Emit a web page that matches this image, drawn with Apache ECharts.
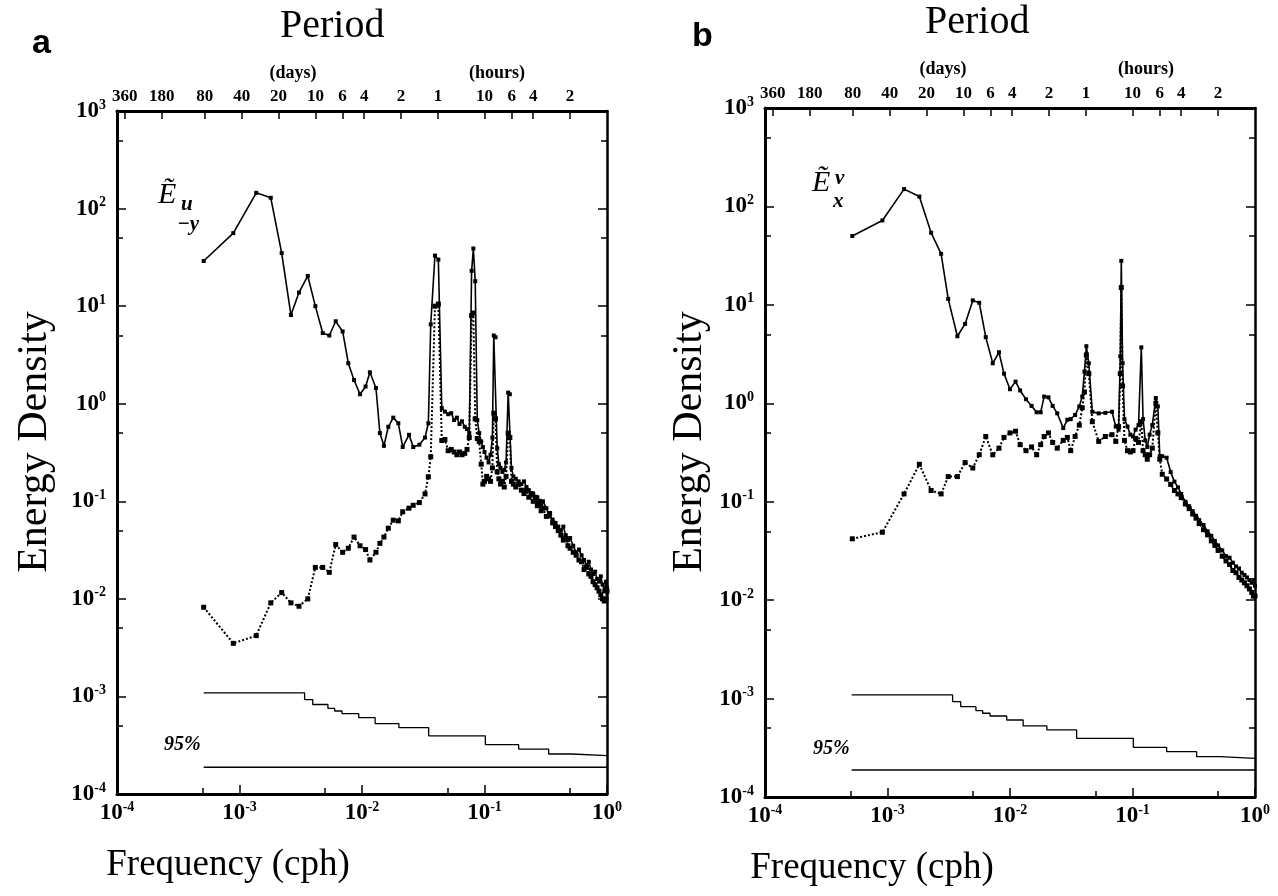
<!DOCTYPE html>
<html><head><meta charset="utf-8">
<script src="https://cdn.jsdelivr.net/npm/echarts@6/dist/echarts.min.js"></script>
<style>html,body{margin:0;padding:0;background:#fff}#c{width:1278px;height:896px}</style>
</head><body><div id="c"></div>
<script>
// ---- tick values ----
const decadesX = [1e-4, 1e-3, 1e-2, 1e-1, 1];
const minorX = [5e-4, 5e-3, 5e-2, 0.5];
const decadesY = [1e-4, 1e-3, 1e-2, 1e-1, 1, 10, 100, 1000];
const minorY = [5e-4, 5e-3, 5e-2, 0.5, 5, 50, 500];
const periodDays = [360, 180, 80, 40, 20, 10, 6, 4, 2, 1];
const periodHours = [10, 6, 4, 2];

// ---- panel a data ----
const freqA = [5.1e-4, 8.9e-4, 1.37e-3, 1.80e-3, 2.21e-3, 2.63e-3, 3.06e-3, 3.61e-3, 4.16e-3, 4.78e-3,
  5.41e-3, 6.10e-3, 6.95e-3, 7.73e-3, 8.61e-3, 9.64e-3, 1.07e-2, 1.16e-2, 1.30e-2, 1.40e-2,
  1.51e-2, 1.64e-2, 1.80e-2, 1.98e-2, 2.15e-2, 2.42e-2, 2.62e-2, 2.94e-2, 3.27e-2, 3.48e-2,
  3.64e-2, 3.94e-2, 4.20e-2, 4.48e-2, 4.75e-2, 5.05e-2, 5.35e-2, 5.65e-2, 5.95e-2, 6.25e-2,
  6.55e-2, 6.90e-2, 7.20e-2, 7.51e-2, 7.85e-2, 8.11e-2, 8.40e-2, 8.73e-2, 9.05e-2, 9.40e-2,
  9.70e-2, 0.100, 0.104, 0.108, 0.112, 0.116, 0.119, 0.123, 0.127, 0.131,
  0.135, 0.140, 0.145, 0.150, 0.156, 0.161, 0.166, 0.172, 0.18, 0.19,
  0.20, 0.21, 0.22, 0.23, 0.24, 0.25, 0.26, 0.27, 0.28, 0.29,
  0.30, 0.32, 0.34, 0.36, 0.38, 0.40, 0.42, 0.44, 0.46, 0.48,
  0.50, 0.53, 0.56, 0.59, 0.62, 0.65, 0.68, 0.71, 0.74, 0.77,
  0.80, 0.83, 0.86, 0.89, 0.92, 0.95, 0.98, 1.0];
const solidA = [29, 56, 145, 129, 35, 8.1, 13.8, 20.4, 10, 5.3,
  5.0, 7.0, 5.5, 2.6, 1.75, 1.25, 1.5, 2.1, 1.45, 0.50,
  0.37, 0.58, 0.72, 0.63, 0.36, 0.48, 0.36, 0.38, 0.45, 0.63,
  6.5, 33, 30, 0.9, 0.83, 0.78, 0.80, 0.68, 0.72, 0.62,
  0.66, 0.58, 0.55, 0.50, 23, 39, 18, 0.68, 0.50, 0.41,
  0.36, 0.32, 0.28, 0.25, 0.30, 0.45, 5.0, 4.8, 0.35, 0.24,
  0.22, 0.20, 0.21, 0.25, 1.3, 1.25, 0.22, 0.18, 0.17, 0.16,
  0.15, 0.16, 0.14, 0.13, 0.12, 0.12, 0.10, 0.11, 0.095, 0.09,
  0.10, 0.085, 0.07, 0.065, 0.06, 0.055, 0.05, 0.055, 0.045, 0.04,
  0.042, 0.035, 0.03, 0.032, 0.028, 0.025, 0.022, 0.024, 0.02, 0.018,
  0.019, 0.016, 0.015, 0.017, 0.014, 0.012, 0.015, 0.013];
const dottedA = [8.2e-3, 3.5e-3, 4.2e-3, 9.1e-3, 1.16e-2, 9.1e-3, 8.4e-3, 1.0e-2, 2.1e-2, 2.1e-2,
  1.87e-2, 3.6e-2, 3.0e-2, 3.3e-2, 4.3e-2, 3.5e-2, 3.2e-2, 2.5e-2, 3.0e-2, 3.7e-2,
  4.3e-2, 5.3e-2, 6.4e-2, 6.3e-2, 7.8e-2, 8.5e-2, 9.1e-2, 9.7e-2, 0.119, 0.178,
  0.286, 10, 10.5, 0.42, 0.43, 0.33, 0.34, 0.32, 0.30, 0.32,
  0.30, 0.31, 0.34, 0.45, 8, 8.5, 0.7, 0.44, 0.41, 0.24,
  0.15, 0.16, 0.18, 0.17, 0.16, 0.22, 0.8, 0.7, 0.20, 0.17,
  0.15, 0.16, 0.14, 0.18, 0.5, 0.45, 0.16, 0.15, 0.14, 0.15,
  0.13, 0.12, 0.13, 0.11, 0.12, 0.10, 0.11, 0.09, 0.10, 0.08,
  0.085, 0.07, 0.075, 0.06, 0.055, 0.05, 0.045, 0.04, 0.042, 0.035,
  0.033, 0.03, 0.028, 0.025, 0.024, 0.02, 0.021, 0.018, 0.017, 0.015,
  0.014, 0.013, 0.012, 0.011, 0.010, 0.0095, 0.010, 0.012];

// ---- panel b data ----
const freqB = [5.16e-4, 9.08e-4, 1.365e-3, 1.82e-3, 2.27e-3, 2.74e-3, 3.13e-3, 3.72e-3, 4.30e-3, 4.97e-3,
  5.61e-3, 6.34e-3, 7.23e-3, 8.13e-3, 8.93e-3, 1.0e-2, 1.11e-2, 1.21e-2, 1.35e-2, 1.50e-2,
  1.65e-2, 1.78e-2, 1.90e-2, 2.06e-2, 2.23e-2, 2.43e-2, 2.72e-2, 2.94e-2, 3.13e-2, 3.40e-2,
  3.68e-2, 3.89e-2, 4.05e-2, 4.20e-2, 4.40e-2, 4.70e-2, 5.30e-2, 6.00e-2, 6.80e-2, 7.30e-2,
  7.70e-2, 7.95e-2, 8.10e-2, 8.30e-2, 8.60e-2, 9.10e-2, 9.60e-2, 0.101, 0.106, 0.112,
  0.118, 0.122, 0.127, 0.132, 0.138, 0.145, 0.155, 0.161, 0.167, 0.175,
  0.19, 0.205, 0.22, 0.235, 0.25, 0.27, 0.29, 0.31, 0.33, 0.35,
  0.38, 0.41, 0.44, 0.47, 0.50, 0.54, 0.58, 0.62, 0.66, 0.70,
  0.74, 0.78, 0.82, 0.86, 0.90, 0.94, 0.97, 1.0];
const solidB = [50, 72, 150, 126, 54, 33, 11.5, 4.8, 6.4, 11.1,
  10.5, 4.7, 2.55, 3.3, 2.0, 1.39, 1.66, 1.35, 1.10, 0.94,
  0.81, 0.81, 1.17, 1.15, 0.94, 0.79, 0.56, 0.68, 0.69, 0.76,
  0.93, 1.17, 2.1, 3.8, 2.55, 0.82, 0.79, 0.80, 0.82, 0.58,
  0.54, 3.0, 28, 2.56, 0.69, 0.58, 0.48, 0.46, 0.54, 0.6,
  3.7, 0.69, 0.42, 0.36, 0.48, 0.6, 1.13, 0.93, 0.29, 0.29,
  0.28, 0.2, 0.16, 0.14, 0.12, 0.1, 0.09, 0.08, 0.072, 0.065,
  0.058, 0.05, 0.045, 0.04, 0.036, 0.032, 0.028, 0.027, 0.024, 0.022,
  0.021, 0.019, 0.018, 0.017, 0.016, 0.015, 0.016, 0.014];
const dottedB = [0.042, 0.049, 0.12, 0.24, 0.13, 0.12, 0.18, 0.18, 0.25, 0.22,
  0.30, 0.46, 0.30, 0.35, 0.45, 0.50, 0.52, 0.38, 0.33, 0.36,
  0.30, 0.38, 0.46, 0.50, 0.40, 0.35, 0.42, 0.45, 0.33, 0.46,
  0.60, 0.9, 1.3, 3.1, 2.0, 0.65, 0.41, 0.46, 0.48, 0.41,
  0.58, 2.0, 15, 1.5, 0.42, 0.33, 0.32, 0.33, 0.44, 0.40,
  0.65, 0.33, 0.30, 0.27, 0.30, 0.35, 1.0, 0.5, 0.27, 0.19,
  0.17, 0.15, 0.13, 0.12, 0.11, 0.095, 0.085, 0.075, 0.068, 0.06,
  0.052, 0.046, 0.04, 0.036, 0.032, 0.028, 0.025, 0.023, 0.02, 0.019,
  0.017, 0.016, 0.015, 0.014, 0.013, 0.012, 0.011, 0.011];

// ---- 95% confidence ----
const confFreq = [5.1e-4, 3.40e-3, 3.96e-3, 5.27e-3, 5.98e-3, 6.87e-3, 9.4e-3, 1.28e-2, 2.0e-2, 3.5e-2, 0.1016, 0.190, 0.334, 0.518, 1.0];
const confUpper = [1.09e-3, 9.29e-4, 8.27e-4, 7.53e-4, 7.09e-4, 6.65e-4, 6.06e-4, 5.27e-4, 4.8e-4, 3.95e-4, 3.2e-4, 2.89e-4, 2.57e-4, 2.47e-4, 2.47e-4];
const confLowerFreq = [5.1e-4, 1.0];
const confLower = [1.88e-4, 1.88e-4];

const SERIF = '"Liberation Serif", "DejaVu Serif", serif';
const zip = (xs, ys) => xs.map((x, i) => [x, ys[i]]);
const expOf = v => Math.round(Math.log10(v));
const powLabel = v => { const e = expOf(v); return '{b|10}{s|' + (e < 0 ? '-' + (-e) : e) + '}'; };
const periodVals = periodDays.map(d => 1 / (24 * d)).concat(periodHours.map(h => 1 / h));
const periodTexts = periodDays.map(String).concat(periodHours.map(String));
const periodLabel = v => {
  let best = 0, bd = Infinity;
  periodVals.forEach((p, i) => { const d = Math.abs(Math.log10(p) - Math.log10(v)); if (d < bd) { bd = d; best = i; } });
  return periodTexts[best];
};

const grids = [
  { left: 117, top: 111, width: 490, height: 683 },
  { left: 765, top: 108, width: 490, height: 689 }
];

const xAxes = [], yAxes = [], series = [];
const powRich = {
  b: { fontFamily: SERIF, fontSize: 23, fontWeight: 'bold', color: '#000', lineHeight: 26 },
  s: { fontFamily: SERIF, fontSize: 14, fontWeight: 'bold', color: '#000', verticalAlign: 'top', lineHeight: 14 }
};
grids.forEach((g, gi) => {
  const base = { gridIndex: gi, type: 'log', logBase: 10, min: 1e-4, max: 1, splitLine: { show: false }, axisPointer: { show: false } };
  const line = w => ({ show: true, onZero: false, lineStyle: { color: '#000', width: w } });
  const tick = (len, vals) => ({ show: true, inside: true, length: len, lineStyle: { width: 1.5, color: '#000' }, customValues: vals });
  xAxes.push(Object.assign({}, base, {
    position: 'bottom', axisLine: line(3), axisTick: tick(9, decadesX),
    axisLabel: { show: true, customValues: decadesX, margin: 6, formatter: powLabel, color: '#000', rich: powRich }
  }));
  xAxes.push(Object.assign({}, base, {
    position: 'bottom', axisLine: { show: false }, axisTick: tick(6, minorX), axisLabel: { show: false }
  }));
  xAxes.push(Object.assign({}, base, {
    position: 'top', axisLine: line(3), axisTick: tick(8, periodVals),
    axisLabel: { show: true, customValues: periodVals, margin: 6, formatter: periodLabel, color: '#000',
      fontFamily: SERIF, fontSize: 17, fontWeight: 'bold' }
  }));
  const ybase = { gridIndex: gi, type: 'log', logBase: 10, min: 1e-4, max: 1000, splitLine: { show: false }, axisPointer: { show: false } };
  yAxes.push(Object.assign({}, ybase, {
    position: 'left', axisLine: line(3), axisTick: tick(9, decadesY),
    axisLabel: { show: true, customValues: decadesY, margin: 11, formatter: powLabel, color: '#000', rich: powRich }
  }));
  yAxes.push(Object.assign({}, ybase, { position: 'left', axisLine: { show: false }, axisTick: tick(6, minorY), axisLabel: { show: false } }));
  yAxes.push(Object.assign({}, ybase, { position: 'right', axisLine: line(2.5), axisTick: tick(9, decadesY), axisLabel: { show: false } }));
  yAxes.push(Object.assign({}, ybase, { position: 'right', axisLine: { show: false }, axisTick: tick(6, minorY), axisLabel: { show: false } }));
});

const panels = [
  { f: freqA, s: solidA, d: dottedA },
  { f: freqB, s: solidB, d: dottedB }
];
panels.forEach((p, gi) => {
  const xi = gi * 3, yi = gi * 4;
  series.push({ type: 'line', xAxisIndex: xi, yAxisIndex: yi, data: zip(p.f, p.d),
    symbol: 'rect', symbolSize: 5, itemStyle: { color: '#000' }, lineStyle: { color: '#000', width: 2, type: 'dotted' }, z: 3 });
  series.push({ type: 'line', xAxisIndex: xi, yAxisIndex: yi, data: zip(p.f, p.s),
    symbol: 'rect', symbolSize: 4, itemStyle: { color: '#000' }, lineStyle: { color: '#000', width: 1.6 }, z: 4 });
  series.push({ type: 'line', xAxisIndex: xi, yAxisIndex: yi, data: zip(confFreq, confUpper), step: 'end',
    showSymbol: false, symbol: 'none', lineStyle: { color: '#000', width: 1.3 } });
  series.push({ type: 'line', xAxisIndex: xi, yAxisIndex: yi, data: zip(confLowerFreq, confLower),
    showSymbol: false, symbol: 'none', lineStyle: { color: '#000', width: 1.3 } });
});

// text helper: x/y anchor with alignment
const T = (x, y, text, font, align, valign, rot) => ({
  type: 'text', x: x, y: y, rotation: rot || 0,
  style: { text: text, font: font, fill: '#000', textAlign: align || 'left', textVerticalAlign: valign || 'top' }
});
const graphics = [
  T(32, 27, 'a', 'bold 34px "Liberation Sans", Arial, sans-serif'),
  T(692, 20, 'b', 'bold 34px "Liberation Sans", Arial, sans-serif'),
  T(280, 6, 'Period', '40px ' + SERIF),
  T(925, 2, 'Period', '40px ' + SERIF),
  T(293, 64, '(days)', 'bold 18px ' + SERIF, 'center'),
  T(497, 64, '(hours)', 'bold 18px ' + SERIF, 'center'),
  T(943, 60, '(days)', 'bold 18px ' + SERIF, 'center'),
  T(1146, 60, '(hours)', 'bold 18px ' + SERIF, 'center'),
  T(164, 735, '95%', 'italic bold 20px ' + SERIF),
  T(813, 739, '95%', 'italic bold 20px ' + SERIF),
  T(158, 180, 'Ẽ', 'italic 30px ' + SERIF),
  T(181, 194, 'u', 'italic bold 21px ' + SERIF),
  T(177, 214, '−y', 'italic bold 21px ' + SERIF),
  T(812, 168, 'Ẽ', 'italic 30px ' + SERIF),
  T(835, 168, 'ν', 'italic bold 21px ' + SERIF),
  T(833, 191, 'x', 'italic bold 21px ' + SERIF),
  T(35, 442, 'Energy Density', '42px ' + SERIF, 'center', 'middle', Math.PI / 2),
  T(690, 442, 'Energy Density', '42px ' + SERIF, 'center', 'middle', Math.PI / 2),
  T(228, 865, 'Frequency (cph)', '37px ' + SERIF, 'center', 'middle'),
  T(872, 868, 'Frequency (cph)', '37px ' + SERIF, 'center', 'middle')
];

const chart = echarts.init(document.getElementById('c'), null, { renderer: 'canvas' });
chart.setOption({
  animation: false,
  backgroundColor: '#fff',
  grid: grids,
  xAxis: xAxes,
  yAxis: yAxes,
  series: series,
  graphic: graphics
});
</script>
</body></html>
